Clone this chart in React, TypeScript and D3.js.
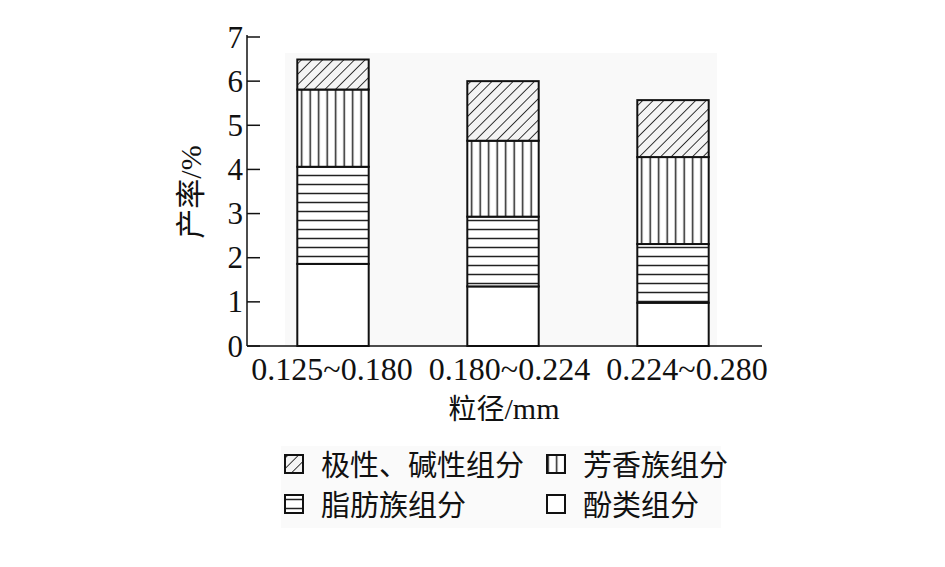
import * as React from "react";
import * as d3 from "d3";

const categories = ["0.125~0.180", "0.180~0.224", "0.224~0.280"];
const phenol = [1.86, 1.35, 0.98];
const aliphatic = [2.2, 1.58, 1.33];
const aromatic = [1.75, 1.72, 1.97];
const polar = [0.68, 1.35, 1.29];
const yTicks = [0, 1, 2, 3, 4, 5, 6, 7];

const seriesKeys = ["phenol", "aliphatic", "aromatic", "polar"] as const;
const seriesFill: Record<string, string> = {
  phenol: "#ffffff",
  aliphatic: "url(#pat-h)",
  aromatic: "url(#pat-v)",
  polar: "url(#pat-d)",
};
const legendItems = [
  { key: "polar", label: "极性、碱性组分" },
  { key: "aromatic", label: "芳香族组分" },
  { key: "aliphatic", label: "脂肪族组分" },
  { key: "phenol", label: "酚类组分" },
];

const W = 945;
const H = 567;
const X0 = 247;
const X1 = 762;
const Y0 = 346;
const Y1 = 37;

const SERIF = "'Liberation Serif', 'DejaVu Serif', serif";
const CJK = "'Noto Sans CJK SC', 'Noto Sans CJK JP', sans-serif";

export default function App() {
  const rows = categories.map((c, i) => ({
    cat: c,
    phenol: phenol[i],
    aliphatic: aliphatic[i],
    aromatic: aromatic[i],
    polar: polar[i],
  }));
  const stacked = d3.stack<any>().keys(seriesKeys as any)(rows);

  const x = d3
    .scaleBand<string>()
    .domain(categories)
    .range([248, 758])
    .paddingInner(0.58)
    .paddingOuter(0.29);
  // tick labels are spread a little wider than the bars in the original
  const xLabel = d3.scalePoint<string>().domain(categories).range([332, 687]);
  const y = d3.scaleLinear().domain([0, 7]).range([Y0, Y1]);

  return (
    <svg
      width={W}
      height={H}
      style={{ position: "absolute", left: 0, top: 0, background: "#fff" }}
    >
      <defs>
        <pattern id="pat-h" patternUnits="userSpaceOnUse" width={10} height={9}>
          <rect width={10} height={9} fill="#fff" />
          <line x1={0} x2={10} y1={4.5} y2={4.5} stroke="#222" strokeWidth={1.5} />
        </pattern>
        <pattern id="pat-v" patternUnits="userSpaceOnUse" width={8.5} height={10}>
          <rect width={8.5} height={10} fill="#fff" />
          <line x1={4.2} x2={4.2} y1={0} y2={10} stroke="#222" strokeWidth={1.5} />
        </pattern>
        <pattern
          id="pat-d"
          patternUnits="userSpaceOnUse"
          width={7.5}
          height={10}
          patternTransform="rotate(45)"
        >
          <rect width={7.5} height={10} fill="#f4f4f4" />
          <line x1={0} x2={0} y1={0} y2={10} stroke="#222" strokeWidth={1.8} />
        </pattern>
      </defs>

      {/* faint plot and legend backgrounds */}
      <rect x={285} y={53} width={432} height={292} fill="#f9f9f9" />
      <rect x={281} y={446} width={440} height={82} fill="#fafafa" />

      {/* bars */}
      {stacked.map((s) =>
        s.map((d, i) => (
          <rect
            key={`${s.key}-${i}`}
            x={x(categories[i])}
            y={y(d[1])}
            width={x.bandwidth()}
            height={y(d[0]) - y(d[1])}
            fill={seriesFill[s.key]}
            stroke="#111"
            strokeWidth={2}
          />
        ))
      )}

      {/* axes */}
      <line x1={X0} x2={X0} y1={Y1 - 2} y2={Y0} stroke="#111" strokeWidth={1.5} />
      <line x1={X0} x2={X1} y1={Y0} y2={Y0} stroke="#111" strokeWidth={1.5} />
      {yTicks.map((t) => (
        <g key={t}>
          <line x1={X0} x2={X0 + 13} y1={y(t)} y2={y(t)} stroke="#111" strokeWidth={1.5} />
          <text
            x={X0 - 4}
            y={y(t)}
            dy="0.34em"
            textAnchor="end"
            fontFamily={SERIF}
            fontSize={31}
            fill="#111"
          >
            {t}
          </text>
        </g>
      ))}
      {categories.map((c) => (
        <text
          key={c}
          x={xLabel(c)}
          y={380}
          textAnchor="middle"
          fontFamily={SERIF}
          fontSize={32}
          fill="#111"
        >
          {c}
        </text>
      ))}

      {/* axis titles */}
      <text x={504} y={419} textAnchor="middle" fontSize={28} fill="#111">
        <tspan fontFamily={CJK}>粒径</tspan>
        <tspan fontFamily={SERIF} fontSize={30}>/mm</tspan>
      </text>
      <text
        transform="translate(201,192) rotate(-90)"
        textAnchor="middle"
        fontSize={30}
        fill="#111"
      >
        <tspan fontFamily={CJK}>产率</tspan>
        <tspan fontFamily={SERIF}>/%</tspan>
      </text>

      {/* legend */}
      {legendItems.map((item, i) => {
        const col = i % 2;
        const row = Math.floor(i / 2);
        const lx = col === 0 ? 285 : 547;
        const ly = row === 0 ? 455 : 495;
        return (
          <g key={item.key}>
            <rect
              x={lx}
              y={ly}
              width={18}
              height={18}
              fill={seriesFill[item.key]}
              stroke="#111"
              strokeWidth={2}
            />
            <text
              x={lx + 36}
              y={ly + 21}
              fontFamily={CJK}
              fontSize={29}
              fill="#111"
            >
              {item.label}
            </text>
          </g>
        );
      })}
    </svg>
  );
}
